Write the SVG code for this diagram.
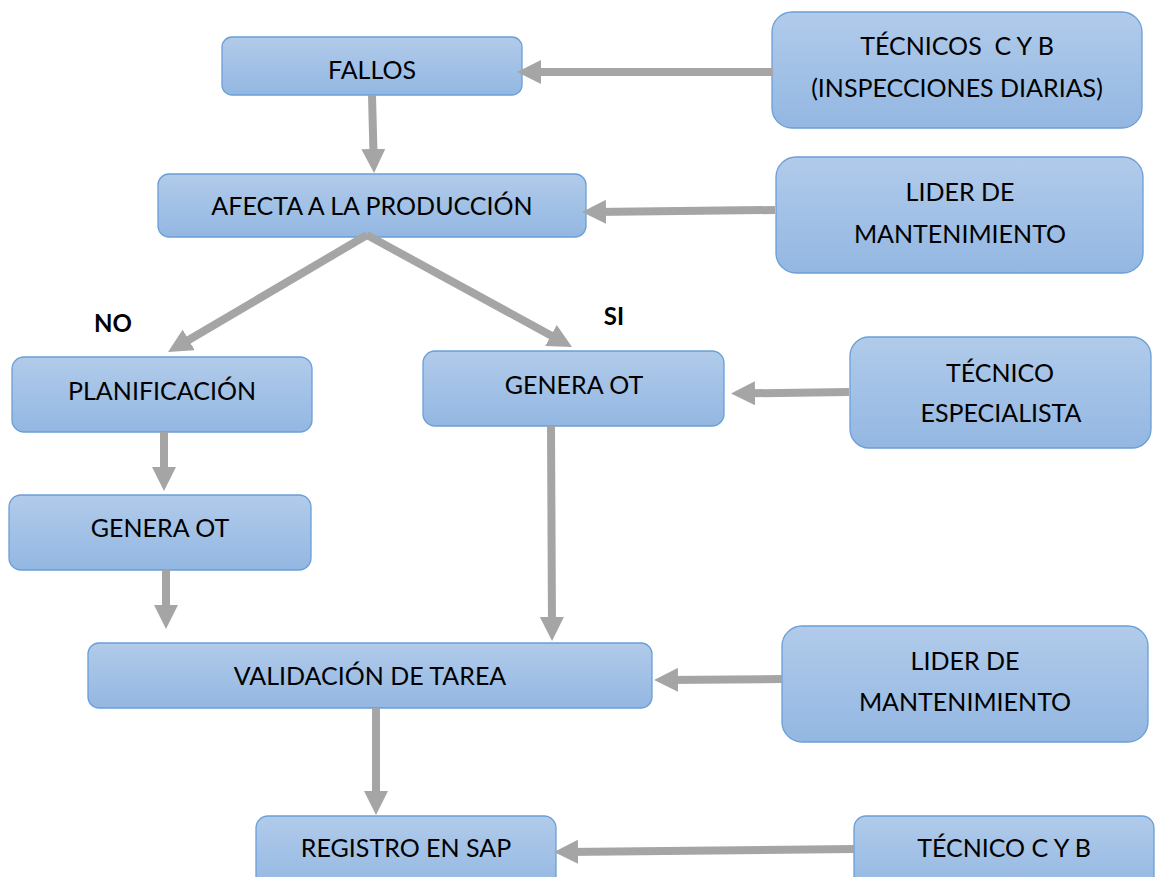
<svg xmlns="http://www.w3.org/2000/svg" width="1160" height="877" viewBox="0 0 1160 877">
<defs>
<linearGradient id="g" x1="0" y1="0" x2="0" y2="1">
<stop offset="0" stop-color="#b1cbea"/>
<stop offset="1" stop-color="#93b7e2"/>
</linearGradient>
<marker id="ah" markerUnits="userSpaceOnUse" markerWidth="24" markerHeight="24" refX="12" refY="12" orient="auto" viewBox="0 0 24 24">
<path d="M0,0 L24,12 L0,24 z" fill="#a5a5a5"/>
</marker>
<style>
.box{fill:url(#g);stroke:#6a9fd7;stroke-width:1.3}
.t{font-family:Lato,"Open Sans","Liberation Sans",sans-serif;font-size:25px;fill:#000;text-anchor:middle}
.b{font-family:Lato,"Open Sans","Liberation Sans",sans-serif;font-size:24px;font-weight:bold;fill:#000;text-anchor:middle}
.c line{stroke:#a5a5a5;stroke-width:8;marker-end:url(#ah)}
</style>
</defs>
<rect width="1160" height="877" fill="#fff"/>
<g id="n-fallos"><rect class="box" x="222" y="37" width="300" height="58" rx="10"/><text class="t" x="372" y="79">FALLOS</text></g>
<g id="n-tecnicos"><rect class="box" x="772" y="12" width="370" height="116" rx="20"/><text class="t" x="957" y="55" xml:space="preserve">TÉCNICOS  C Y B</text><text class="t" x="957" y="97">(INSPECCIONES DIARIAS)</text></g>
<g id="n-afecta"><rect class="box" x="158" y="174" width="428" height="63" rx="11"/><text class="t" x="372" y="215">AFECTA A LA PRODUCCIÓN</text></g>
<g id="n-lider1"><rect class="box" x="776" y="157" width="367" height="116" rx="20"/><text class="t" x="960" y="201">LIDER DE</text><text class="t" x="960" y="243">MANTENIMIENTO</text></g>
<g id="l-no"><text class="b" x="113" y="332">NO</text></g>
<g id="l-si"><text class="b" x="614" y="325">SI</text></g>
<g id="n-planif"><rect class="box" x="12" y="357" width="300" height="75" rx="12"/><text class="t" x="162" y="400">PLANIFICACIÓN</text></g>
<g id="n-genera-r"><rect class="box" x="423" y="351" width="301" height="75" rx="12"/><text class="t" x="574" y="394">GENERA OT</text></g>
<g id="n-especialista"><rect class="box" x="850" y="337" width="301" height="111" rx="19"/><text class="t" x="1000" y="382">TÉCNICO</text><text class="t" x="1001" y="422">ESPECIALISTA</text></g>
<g id="n-genera-l"><rect class="box" x="9" y="495" width="302" height="75" rx="12"/><text class="t" x="160" y="537">GENERA OT</text></g>
<g id="n-validacion"><rect class="box" x="88" y="643" width="564" height="65" rx="11"/><text class="t" x="370" y="685">VALIDACIÓN DE TAREA</text></g>
<g id="n-lider2"><rect class="box" x="782" y="626" width="366" height="116" rx="20"/><text class="t" x="965" y="670">LIDER DE</text><text class="t" x="965" y="711">MANTENIMIENTO</text></g>
<g id="n-registro"><rect class="box" x="256" y="816" width="300" height="75" rx="12"/><text class="t" x="406" y="857">REGISTRO EN SAP</text></g>
<g id="n-tecnicocyb"><rect class="box" x="854" y="816" width="300" height="75" rx="12"/><text class="t" x="1004" y="857">TÉCNICO C Y B</text></g>
<g id="connectors" class="c">
<line x1="773" y1="72" x2="529" y2="72"/>
<line x1="372" y1="95" x2="373.7" y2="161"/>
<line x1="775" y1="210" x2="594" y2="211.9"/>
<line x1="367" y1="235" x2="178.4" y2="346"/>
<line x1="367" y1="235" x2="561.5" y2="341.2"/>
<line x1="849" y1="392" x2="743" y2="393.4"/>
<line x1="164" y1="432" x2="164" y2="479"/>
<line x1="166" y1="570" x2="166" y2="617"/>
<line x1="551" y1="426" x2="552" y2="629"/>
<line x1="782" y1="679" x2="666" y2="680"/>
<line x1="376" y1="708" x2="376" y2="803"/>
<line x1="854" y1="849" x2="566" y2="851.9"/>
</g>
</svg>
